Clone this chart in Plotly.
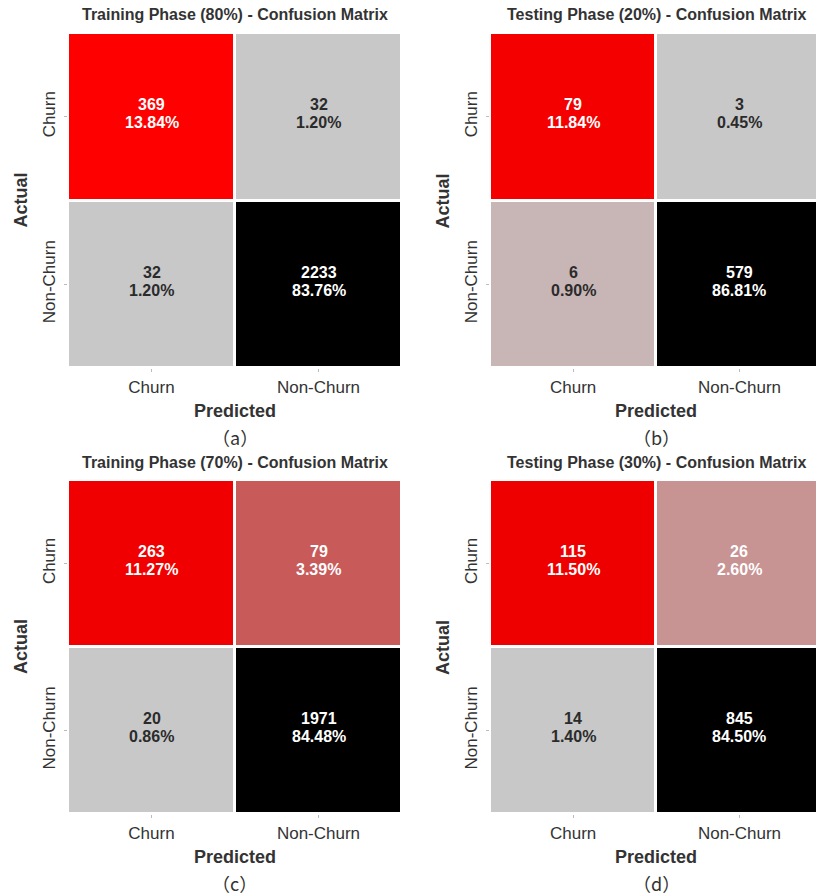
import plotly.graph_objects as go

# ---- data -------------------------------------------------------------
classes = ["Churn", "Non-Churn"]

cm_train_80 = [[369, 32], [32, 2233]]
cm_test_20 = [[79, 3], [6, 579]]
cm_train_70 = [[263, 79], [20, 1971]]
cm_test_30 = [[115, 26], [14, 845]]

panel_titles = [
    "Training Phase (80%) - Confusion Matrix",
    "Testing Phase (20%) - Confusion Matrix",
    "Training Phase (70%) - Confusion Matrix",
    "Testing Phase (30%) - Confusion Matrix",
]
panel_captions = ["（a）", "（b）", "（c）", "（d）"]
matrices = [cm_train_80, cm_test_20, cm_train_70, cm_test_30]

# ---- styling ----------------------------------------------------------
W, H = 816, 896
FONT = "Liberation Sans"
DARK = "#2b2b2b"
LABEL = "#333333"

colorscale = [
    [0.0, "#c8c8c8"],
    [0.055, "#c80000"],
    [0.15, "#ff0000"],
    [1.0, "#000000"],
]


def hex_rgb(h):
    h = h.lstrip("#")
    return [int(h[i:i + 2], 16) for i in (0, 2, 4)]


def scale_color(t):
    for (a, ca), (b, cb) in zip(colorscale[:-1], colorscale[1:]):
        if a <= t <= b:
            f = 0 if b == a else (t - a) / (b - a)
            c1, c2 = hex_rgb(ca), hex_rgb(cb)
            return [c1[i] + f * (c2[i] - c1[i]) for i in range(3)]
    return hex_rgb(colorscale[-1][1])


def luminance(rgb):
    lin = []
    for v in rgb:
        v = v / 255
        lin.append(v / 12.92 if v <= 0.03928 else ((v + 0.055) / 1.055) ** 2.4)
    return 0.2126 * lin[0] + 0.7152 * lin[1] + 0.0722 * lin[2]


# panel placement in pixels: (left, right, top, bottom)
panels_px = [
    (68, 402, 33, 368),
    (490, 816, 33, 368),
    (68, 402, 480, 814),
    (490, 816, 480, 814),
]
# right-hand panels run off the page edge, so their x range is cut short
x_range_max = [1.5, 1.46, 1.5, 1.46]

fig = go.Figure()
annotations = []


def label(text, x, y, size, family=FONT, angle=0, color=LABEL):
    annotations.append(dict(
        x=x, y=y, xref="paper", yref="paper", text=text,
        showarrow=False, xanchor="center", yanchor="middle",
        textangle=angle, font=dict(family=family, size=size, color=color),
    ))


for k, (cm, title, cap) in enumerate(zip(matrices, panel_titles, panel_captions)):
    left, right, top, bottom = panels_px[k]
    n = k + 1
    xa = "x" if n == 1 else f"x{n}"
    ya = "y" if n == 1 else f"y{n}"

    total = sum(sum(r) for r in cm)
    flat = [v for r in cm for v in r]
    zmin, zmax = min(flat), max(flat)

    fig.add_trace(go.Heatmap(
        z=cm, x=classes, y=classes,
        colorscale=colorscale, zmin=zmin, zmax=zmax,
        showscale=False, xgap=3, ygap=3,
        hoverinfo="skip",
        xaxis=xa, yaxis=ya,
    ))

    # cell annotations: count above, share of total below
    for i, row_name in enumerate(classes):
        for j, col_name in enumerate(classes):
            v = cm[i][j]
            t = (v - zmin) / (zmax - zmin)
            col = "white" if luminance(scale_color(t)) <= 0.408 else DARK
            for txt, shift in ((f"<b>{v}</b>", 12),
                               (f"<b>{100 * v / total:.2f}%</b>", -6)):
                annotations.append(dict(
                    x=col_name, y=row_name, xref=xa, yref=ya,
                    text=txt, showarrow=False, yshift=shift,
                    xanchor="center", yanchor="middle",
                    font=dict(family=FONT, size=16, color=col),
                ))

    # axis geometry
    x0, x1 = left / W, right / W
    y0, y1 = 1 - bottom / H, 1 - top / H
    axis_key = "xaxis" if n == 1 else f"xaxis{n}"
    yaxis_key = "yaxis" if n == 1 else f"yaxis{n}"
    fig.layout[axis_key] = dict(
        domain=[x0, x1], anchor=ya, range=[-0.5, x_range_max[k]],
        showgrid=False, zeroline=False, showline=False,
        ticks="outside", ticklen=3, tickcolor="#bbbbbb",
        tickfont=dict(family=FONT, size=17, color=LABEL),
        ticklabelstandoff=1,
    )
    fig.layout[yaxis_key] = dict(
        domain=[y0, y1], anchor=xa, autorange="reversed",
        showgrid=False, zeroline=False, showline=False,
        ticks="outside", ticklen=3, tickcolor="#bbbbbb",
        tickangle=-90,
        tickfont=dict(family=FONT, size=17, color=LABEL),
        ticklabelstandoff=2,
    )

    # centre of the full heatmap (right panels extend past the page)
    cell_w = (right - left) / (x_range_max[k] + 0.5)
    cx = (left + cell_w) / W
    cy = 1 - (top + bottom) / 2 / H

    label(f"<b>{title}</b>", cx, 1 - (top - 18) / H, 16)
    label("<b>Predicted</b>", cx, 1 - (bottom + 43) / H, 18)
    label(cap, cx, 1 - (bottom + 69) / H, 18, family="Noto Sans CJK SC")
    label("<b>Actual</b>", (left - 47) / W, cy, 18, angle=-90)

fig.update_layout(
    width=W, height=H,
    margin=dict(l=0, r=0, t=0, b=0),
    paper_bgcolor="white", plot_bgcolor="white",
    annotations=annotations,
    showlegend=False,
)

fig.write_html("out.html")
